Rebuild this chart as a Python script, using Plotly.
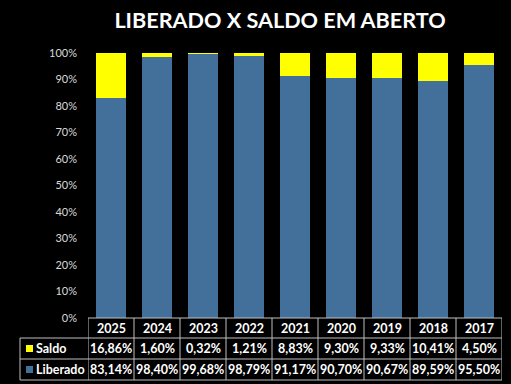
import plotly.graph_objects as go

years = ["2025", "2024", "2023", "2022", "2021", "2020", "2019", "2018", "2017"]
liberado = [83.14, 98.40, 99.68, 98.79, 91.17, 90.70, 90.67, 89.59, 95.50]
saldo = [16.86, 1.60, 0.32, 1.21, 8.83, 9.30, 9.33, 10.41, 4.50]
y_tickvals = [0, 10, 20, 30, 40, 50, 60, 70, 80, 90, 100]
y_ticktext = ["0%", "10%", "20%", "30%", "40%", "50%", "60%", "70%", "80%", "90%", "100%"]
title_text = "LIBERADO X SALDO EM ABERTO"

BLUE = "#43709A"
YELLOW = "#FFFF00"
GRID = "#BFBFBF"
W, H = 511, 384
L, R, T, B = 88, 9, 53, 66
PH = H - T - B
PW = W - L - R


def py(px):  # pixel y -> paper y
    return (H - B - px) / PH


def pxx(px):  # pixel x -> paper x
    return (px - L) / PW


def fmt(v):
    return f"{v:.2f}%".replace(".", ",")


fig = go.Figure()
fig.add_trace(go.Bar(x=years, y=liberado, name="Liberado", marker_color=BLUE, marker_line_width=0))
fig.add_trace(go.Bar(x=years, y=saldo, name="Saldo", marker_color=YELLOW, marker_line_width=0))

font_tab = dict(family="Lato", size=12.5, color="white")
ann = []
shapes = []
y_rows = [318, 338, 359, 380]
for i, yr in enumerate(years):
    ann.append(dict(x=i, xref="x", y=py((y_rows[0] + y_rows[1]) / 2), yref="paper",
                    text=f"<b>{yr}</b>", showarrow=False, font=font_tab, xanchor="center", yanchor="middle"))
    ann.append(dict(x=i, xref="x", y=py((y_rows[1] + y_rows[2]) / 2), yref="paper",
                    text=f"<b>{fmt(saldo[i])}</b>", showarrow=False, font=font_tab, xanchor="center", yanchor="middle"))
    ann.append(dict(x=i, xref="x", y=py((y_rows[2] + y_rows[3]) / 2), yref="paper",
                    text=f"<b>{fmt(liberado[i])}</b>", showarrow=False, font=font_tab, xanchor="center", yanchor="middle"))
# row labels
for name, color, r in (("Saldo", YELLOW, 1), ("Liberado", BLUE, 2)):
    yc = (y_rows[r] + y_rows[r + 1]) / 2
    shapes.append(dict(type="rect", xref="paper", yref="paper", x0=pxx(26), x1=pxx(33),
                       y0=py(yc - 3.5), y1=py(yc + 3.5), fillcolor=color, line_width=0))
    ann.append(dict(x=pxx(34), xref="paper", y=py(yc), yref="paper", text=f"<b>{name}</b>",
                    showarrow=False, font=font_tab, xanchor="left", yanchor="middle"))
# table lines
line = dict(color=GRID, width=1)
shapes.append(dict(type="line", xref="paper", yref="paper", x0=0, x1=1, y0=py(318), y1=py(318), line=line))
for yy in y_rows[1:]:
    shapes.append(dict(type="line", xref="paper", yref="paper", x0=pxx(20), x1=1, y0=py(yy), y1=py(yy), line=line))
shapes.append(dict(type="line", xref="paper", yref="paper", x0=pxx(20), x1=pxx(20), y0=py(338), y1=py(380), line=line))
for k in range(len(years) + 1):
    shapes.append(dict(type="line", xref="x", yref="paper", x0=k - 0.5, x1=k - 0.5, y0=py(318), y1=py(380), line=line))

fig.update_layout(
    width=W, height=H,
    barmode="stack", bargap=0.33,
    paper_bgcolor="black", plot_bgcolor="black",
    margin=dict(l=L, r=R, t=T, b=B),
    showlegend=False,
    title=dict(text=f"<b>{title_text}</b>", x=pxx(280), xref="paper", xanchor="center",
               y=1 - 20 / H, yanchor="middle", font=dict(family="Lato", size=21.6, color="white")),
    xaxis=dict(type="category", showticklabels=False, showgrid=False, zeroline=False, showline=False,
               range=[-0.5, len(years) - 0.5]),
    yaxis=dict(range=[0, 100], tickmode="array", tickvals=y_tickvals, ticktext=y_ticktext,
               showgrid=False, zeroline=False, showline=False, ticks="",
               tickfont=dict(family="Lato", size=11, color="#D9D9D9"), ticklabelstandoff=10),
    annotations=ann, shapes=shapes,
)
fig.write_html("out.html", config={"displayModeBar": False},
               post_script="document.body.style.margin='0';")
